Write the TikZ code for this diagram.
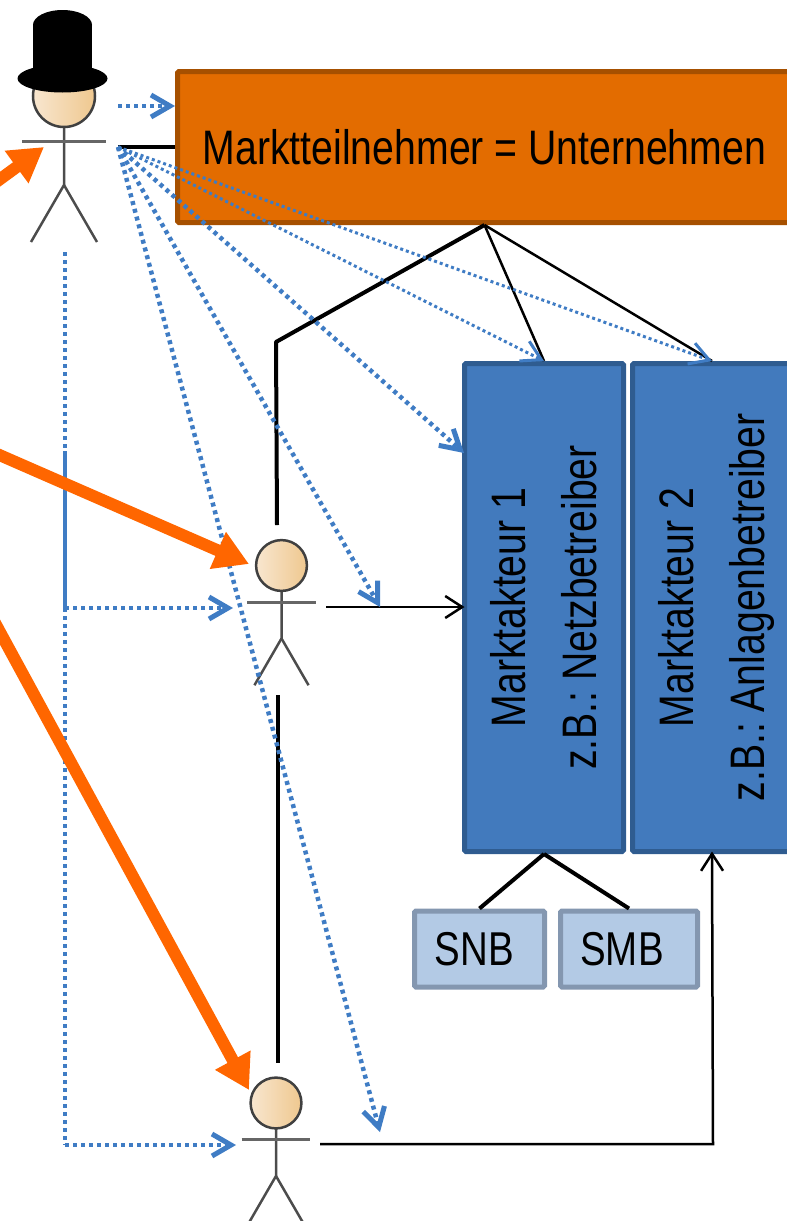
\documentclass[tikz,border=0pt]{standalone}
\usepackage{fontspec}
\setmainfont[FakeStretch=.81]{Liberation Sans}
\usetikzlibrary{arrows.meta,shapes.geometric}

% one stick figure: name, x, y of the head centre, size
\newcommand{\stickman}[4]{
    \begin{scope}[shift={(#2,#3)},x=#4pt,y=-#4pt]
        \draw[limb] (0,31) -- (0,89) -- (-33,146);
        \draw[limb] (0,89) -- (33,146);
        \draw[limb,line width=3pt,gray!80!black] (-42,45) -- (42,45);
    \end{scope}
    \node[head,minimum size=#4*62pt] (#1) at (#2,#3) {};
}

\begin{document}
\frenchspacing
\begin{tikzpicture}[
        x=1pt,y=-1pt,
        market/.style ={draw=marketline,fill=marketfill,line width=5pt,rounded corners=1.5pt,minimum width=614pt,minimum height=151pt,font=\fontsize{48.4}{56}\selectfont},
        actor/.style ={draw=actorline,fill=actorfill,line width=5pt,rounded corners=1.5pt,minimum width=159pt,minimum height=488pt,inner sep=0pt,font=\fontsize{48.4}{71.5}\selectfont},
        role/.style ={draw=roleline,fill=rolefill,line width=5pt,rounded corners=1.5pt,minimum height=76pt,inner sep=0pt,font=\fontsize{47.5}{56}\selectfont},
        head/.style ={circle,draw=black!75,line width=2.5pt,left color=headleft,right color=headright,inner sep=0pt,outer sep=0pt},
        limb/.style ={draw=black!70,line width=2.5pt},
        link/.style ={black,line width=4pt},
        thinlink/.style ={black,line width=2.5pt},
        flow/.style ={black,line width=2.5pt,shorten >=-2.5pt,-{Straight Barb[length=17pt,width=22pt,line width=2.5pt]}},
        dotline/.style ={blueline,line width=4.5pt,dash pattern=on 4pt off 4pt},
        mandate/.style ={dotline,-{Straight Barb[length=19pt,width=22pt,line width=5pt]}},
        fine/.style ={blueline,line width=3pt,dash pattern=on 3pt off 3pt,-{Straight Barb[length=19pt,width=22pt,line width=3pt]}},
        power/.style ={draw=powerfill,line width=12pt,-{Triangle[length=34pt,width=38pt,fill=powerfill]}},
    ]
    \definecolor{marketfill}{HTML}{E36C00}
    \definecolor{marketline}{HTML}{A65000}
    \definecolor{actorfill}{HTML}{427ABD}
    \definecolor{actorline}{HTML}{2F5C90}
    \definecolor{rolefill}{HTML}{B3CAE5}
    \definecolor{roleline}{HTML}{8497B0}
    \definecolor{headleft}{HTML}{F8E6CF}
    \definecolor{headright}{HTML}{EFC88F}
    \definecolor{blueline}{HTML}{3F7CC4}
    \definecolor{powerfill}{HTML}{FF6600}
    \useasboundingbox (0,0) rectangle (787,1221);

    % boxes
    \node[market] (company) at (484.5,147) {\raisebox{-2pt}{Marktteilnehmer = Unternehmen}};
    \node[actor] (actorone) at (544,607.5) {\kern5pt\rotatebox{90}{\begin{tabular}{@{}c@{}}Marktakteur 1\\z.B.: Netzbetreiber\end{tabular}}};
    \node[actor] (actortwo) at (712,607.5) {\kern5pt\rotatebox{90}{\begin{tabular}{@{}c@{}}Marktakteur 2\\z.B.: Anlagenbetreiber\end{tabular}}};
    \node[role,minimum width=130pt] (snb) at (479.5,949) {SNB\kern10pt};
    \node[role,minimum width=137pt] (smb) at (629,949) {SMB\kern14pt};

    % people
    \stickman{owner}{64}{96}{1}
    \fill[black] (33,25) rectangle (92,72);
    \node[ellipse,fill=black,minimum width=59pt,minimum height=30pt,inner sep=0pt] (hattop) at (62.5,25) {};
    \node[ellipse,fill=black,minimum width=90pt,minimum height=28pt,inner sep=0pt] (brim) at (62.5,78.5) {};
    \stickman{manager}{281.5}{565.5}{.82}
    \stickman{operator}{276}{1103}{.82}

    \coordinate (ownerhand) at (118,147);
    \coordinate (ownerhigh) at (118,106);
    \coordinate (ownerfoot) at (65,252);
    \coordinate (bendone) at (276,342);
    \coordinate (bendtwo) at (713,1144);
    \coordinate (managertop) at (277,525);
    \coordinate (managerfoot) at (278,695);
    \coordinate (operatortop) at (278,1063);
    \coordinate (managerhand) at (326,607);
    \coordinate (operatorhand) at (320,1144);
    \coordinate (branchone) at (65,608);
    \coordinate (branchtwo) at (65,1145);
    \coordinate (solidstart) at (65,451);
    \coordinate (managerin) at (233,608);
    \coordinate (operatorin) at (236,1145);
    \coordinate (actorside) at (464,453);
    \coordinate (signone) at (380,607);
    \coordinate (signtwo) at (380,1132);
    \coordinate (powerone) at (-12,188);
    \coordinate (powertwo) at (-12,450);
    \coordinate (powerthree) at (-12,610);
    \coordinate (ownerpower) at (44,147);
    \coordinate (managerpower) at (249,564);
    \coordinate (operatorpower) at (249,1090);

    % black links
    \draw[link] (ownerhand) -- (company.west |- ownerhand);
    \draw[link,line join=round] (company.south) -- (bendone) -- (managertop);
    \draw[link] (managerfoot) -- (operatortop);
    \draw[thinlink] (company.south) -- (actorone.north);
    \draw[thinlink] (company.south) -- (actortwo.north);
    \draw[link] (actorone.south) -- (snb.north);
    \draw[link] (actorone.south) -- (smb.north);
    \draw[flow] (managerhand) -- (actorone.west |- managerhand);
    \draw[flow] (operatorhand) -- (bendtwo) -- (actortwo.south);

    % dotted arrows
    \draw[mandate] (ownerhigh) -- (company.west |- ownerhigh);
    \draw[mandate] (ownerhand) -- (actorside);
    \draw[mandate] (ownerhand) -- (signone);
    \draw[mandate] (ownerhand) -- (signtwo);
    \draw[fine] (ownerhand) -- (actorone.north);
    \draw[fine] (ownerhand) -- (actortwo.north);
    \draw[dotline] (ownerfoot) -- (solidstart);
    \draw[blueline,line width=4.5pt] (solidstart) -- (branchone);
    \draw[dotline] (branchone) -- (branchtwo);
    \draw[mandate] (branchone) -- (managerin);
    \draw[mandate] (branchtwo) -- (operatorin);

    % orange arrows
    \draw[power] (powerone) -- (ownerpower);
    \draw[power] (powertwo) -- (managerpower);
    \draw[power] (powerthree) -- (operatorpower);
\end{tikzpicture}
\end{document}
